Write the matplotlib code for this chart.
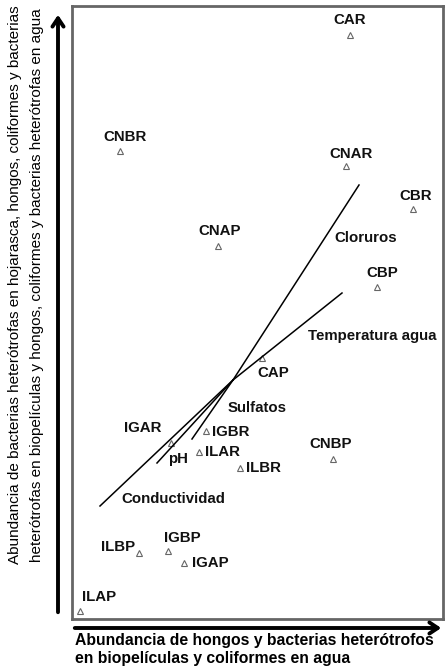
import matplotlib.pyplot as plt
from matplotlib.patches import FancyArrowPatch

plt.rcParams['font.family'] = ['Liberation Sans', 'DejaVu Sans']

# site scores (CCA-like ordination)
sites = ["CAR", "CNBR", "CNAR", "CBR", "CNAP", "CBP", "CAP", "IGBR", "IGAR",
         "ILAR", "ILBR", "CNBP", "ILBP", "IGBP", "IGAP", "ILAP"]
site_x = [1.17, -1.13, 1.13, 1.80, -0.15, 1.44, 0.29, -0.27, -0.62,
          -0.34, 0.07, 1.00, -0.94, -0.65, -0.49, -1.53]
site_y = [3.45, 2.29, 2.14, 1.71, 1.34, 0.93, 0.22, -0.51, -0.63,
          -0.72, -0.88, -0.79, -1.73, -1.71, -1.83, -2.31]

# environmental vectors
variables = ["Cloruros", "Temperatura agua", "Sulfatos", "pH", "Conductividad"]
var_x = [1.26, 1.09, -0.41, -0.76, -1.33]
var_y = [1.95, 0.87, -0.59, -0.83, -1.26]

# label placement (offset in points, alignment)
site_offsets = {
    "CAR": (0, 11, "center"), "CNBR": (4, 10, "center"), "CNAR": (4, 9, "center"),
    "CBR": (2, 9, "center"), "CNAP": (1, 11, "center"), "CBP": (4, 10, "center"),
    "CAP": (8, -11, "center"), "IGBR": (4, -1, "left"), "IGAR": (-20, 11, "center"),
    "ILAR": (4, 0, "left"), "ILBR": (4, 0, "left"), "CNBP": (-2, 11, "center"),
    "ILBP": (-15, 4, "center"), "IGBP": (10, 9, "center"), "IGAP": (6, 0, "left"),
    "ILAP": (14, 10, "center"),
}
var_label_pos = {
    "Cloruros": (1.33, 1.42), "Temperatura agua": (1.39, 0.44), "Sulfatos": (0.24, -0.28),
    "pH": (-0.55, -0.79), "Conductividad": (-0.60, -1.19),
}

fig = plt.figure(figsize=(4.47, 6.72), dpi=100)
W, H = 447, 672
ax = fig.add_axes([72 / W, (H - 619) / H, (443 - 72) / W, (619 - 6) / H])

ax.plot(site_x, site_y, linestyle="none", marker="^", markersize=4.5,
        markerfacecolor="none", markeredgecolor="#666666", markeredgewidth=0.8)
for name, x, y in zip(sites, site_x, site_y):
    dx, dy, ha = site_offsets[name]
    ax.annotate(name, (x, y), xytext=(dx, dy), textcoords="offset points",
                ha=ha, va="center", fontsize=10.8, fontweight="bold", color="#111111")

for name, x, y in zip(variables, var_x, var_y):
    ax.plot([0, x], [0, y], color="black", linewidth=1.1)
    lx, ly = var_label_pos[name]
    ax.text(lx, ly, name, ha="center", va="center", fontsize=10.8,
            fontweight="bold", color="#111111")

ax.set_xlim(-1.61, 2.10)
ax.set_ylim(-2.39, 3.74)
ax.set_xticks([])
ax.set_yticks([])
for s in ax.spines.values():
    s.set_color("#666666")
    s.set_linewidth(2)

# axis arrows
fig.patches.append(FancyArrowPatch(
    (58 / W, (H - 615) / H), (58 / W, (H - 12) / H), transform=fig.transFigure,
    arrowstyle="->,head_length=6,head_width=4", linewidth=2.8, color="black"))
fig.patches.append(FancyArrowPatch(
    (72 / W, (H - 628) / H), (444 / W, (H - 628) / H), transform=fig.transFigure,
    arrowstyle="->,head_length=6,head_width=4", linewidth=2.8, color="black"))

fig.text(15 / W, (H - 285) / H,
         "Abundancia de bacterias heterótrofas en hojarasca, hongos, coliformes y bacterias",
         rotation=90, ha="center", va="center", fontsize=11)
fig.text(37 / W, (H - 285) / H,
         "heterótrofas en biopelículas y hongos, coliformes y bacterias heterótrofas en agua",
         rotation=90, ha="center", va="center", fontsize=11)

fig.text(75 / W, (H - 641) / H, "Abundancia de hongos y bacterias heterótrofos",
         ha="left", va="center", fontsize=11.3, fontweight="bold")
fig.text(75 / W, (H - 659) / H, "en biopelículas y coliformes en agua",
         ha="left", va="center", fontsize=11.3, fontweight="bold")

fig.savefig("out.png", dpi=100)
